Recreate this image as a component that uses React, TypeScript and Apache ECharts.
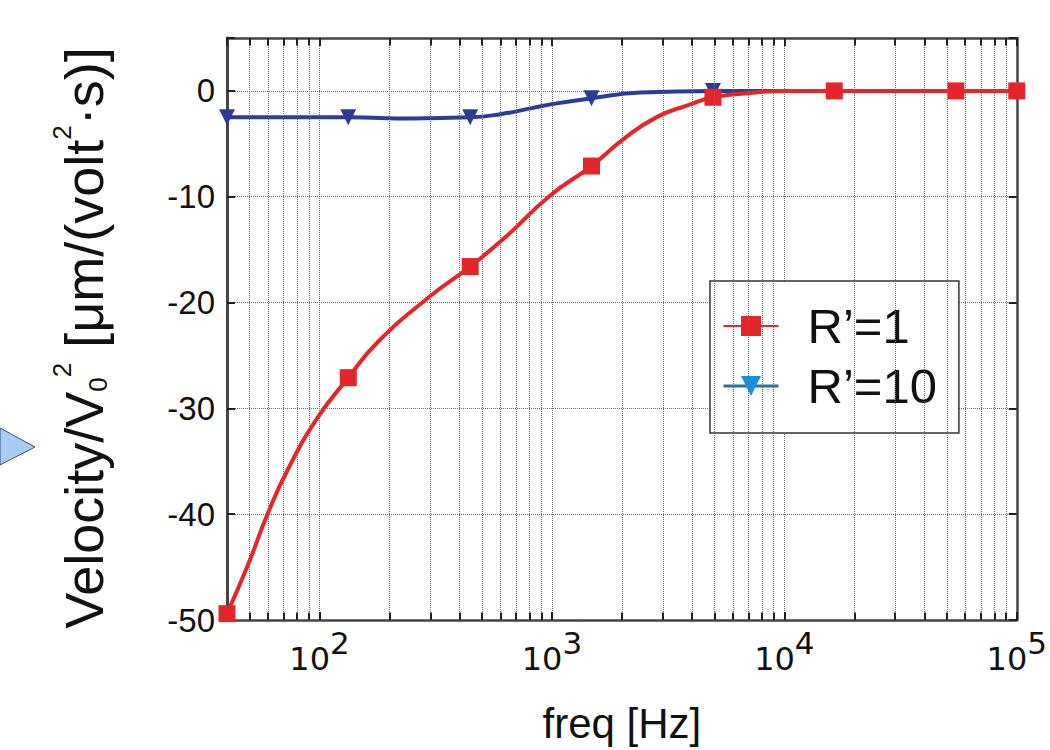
import React, { useEffect, useRef } from "react";
import * as echarts from "echarts";

// R'=1 curve (freq in Hz, velocity/V0^2)
const redFreq = [40, 49, 60, 73, 98, 133, 177, 299, 445, 640, 980, 1480, 2020, 2810, 3910, 4930, 7550, 10000, 16400, 54700, 100000];
const redVal = [-49.4, -44.9, -39.9, -35.8, -30.9, -27.1, -23.8, -19.4, -16.6, -13.7, -9.9, -7.1, -4.6, -2.5, -1.3, -0.6, -0.15, 0, 0, 0, 0];
const redMarked = [1, 0, 0, 0, 0, 1, 0, 0, 1, 0, 0, 1, 0, 0, 0, 1, 0, 0, 1, 1, 1];

// R'=10 curve
const blueFreq = [40, 133, 250, 445, 600, 830, 1000, 1480, 2400, 4930, 16400, 54700, 100000];
const blueVal = [-2.5, -2.5, -2.6, -2.5, -2.2, -1.6, -1.25, -0.7, -0.15, 0, 0, 0, 0];
const blueMarked = [1, 1, 0, 1, 0, 0, 0, 1, 0, 1, 1, 1, 1];

const seriesNames = ["R\u2019=1", "R\u2019=10"];

// minor log grid positions
const minorFreqs = [
  50, 60, 70, 80, 90,
  200, 300, 400, 500, 600, 700, 800, 900,
  2000, 3000, 4000, 5000, 6000, 7000, 8000, 9000,
  20000, 30000, 40000, 50000, 60000, 70000, 80000, 90000,
];

const xMin = 40;
const xMax = 100000;
const yMin = -50;
const yMax = 5;
const yStep = 10;

const RED = "#e4262a";
const BLUE = "#2c3b94";
const GRID = "#6e6e6e";
const FRAME = "#444";

export default function App() {
  const ref = useRef<HTMLDivElement>(null);

  useEffect(() => {
    if (!ref.current) return;
    const chart = echarts.init(ref.current, null, { renderer: "svg" });

    const redData = redFreq.map((f, i) => ({
      value: [f, redVal[i]],
      symbol: redMarked[i] ? "rect" : "none",
    }));
    const blueData = blueFreq.map((f, i) => ({
      value: [f, blueVal[i]],
      symbol: blueMarked[i] ? "triangle" : "none",
    }));

    const gridLineData = minorFreqs.map((f) => ({ xAxis: f }));
    const tickLen = 0.7;
    const minorTickData: any[] = [];
    minorFreqs.forEach((f) => {
      minorTickData.push([{ coord: [f, yMin] }, { coord: [f, yMin + tickLen] }]);
      minorTickData.push([{ coord: [f, yMax] }, { coord: [f, yMax - tickLen] }]);
    });

    const xLabelFmt = (v: number) => {
      const e = Math.round(Math.log10(v));
      if (Math.abs(Math.pow(10, e) - v) > 1e-6 * v) return "";
      return "{b|10}{s|" + e + "}";
    };

    const option: any = {
      animation: false,
      backgroundColor: "#fff",
      grid: { left: 227, right: 33, top: 38, bottom: 130, show: false },
      legend: {
        orient: "vertical",
        left: 710,
        top: 281,
        padding: [18, 22, 20, 12],
        backgroundColor: "#fff",
        borderColor: "#333",
        borderWidth: 1.5,
        itemWidth: 55,
        itemHeight: 25,
        itemGap: 6,
        textStyle: {
          fontFamily: "Liberation Sans, Arial, sans-serif",
          fontSize: 49,
          color: "#111",
          lineHeight: 54,
          padding: [0, 0, 0, 24],
        },
        data: [
          { name: seriesNames[0], itemStyle: { color: RED }, lineStyle: { color: RED, width: 2 } },
          { name: seriesNames[1], itemStyle: { color: "#1b8fdb" }, lineStyle: { color: "#2c7392", width: 3 } },
        ],
      },
      xAxis: [
        {
          type: "log",
          logBase: 10,
          min: xMin,
          max: xMax,
          position: "bottom",
          name: "freq [Hz]",
          nameLocation: "middle",
          nameGap: 82,
          nameTextStyle: { fontFamily: "Liberation Sans, Arial, sans-serif", fontSize: 42, color: "#111" },
          axisLine: { show: true, onZero: false, lineStyle: { color: FRAME, width: 2.5 } },
          axisTick: { show: true, inside: true, length: 8, lineStyle: { color: "#222", width: 2 } },
          axisLabel: {
            formatter: xLabelFmt,
            margin: 7,
            showMinLabel: false,
            rich: {
              b: { fontFamily: "DejaVu Sans, sans-serif", fontSize: 32, color: "#111", lineHeight: 48, verticalAlign: "bottom" },
              s: { fontFamily: "DejaVu Sans, sans-serif", fontSize: 31, color: "#111", lineHeight: 31, verticalAlign: "top" },
            },
          },
          splitLine: { show: true, lineStyle: { color: GRID, type: "dotted", width: 1 } },
        },
        {
          type: "log",
          logBase: 10,
          min: xMin,
          max: xMax,
          position: "top",
          axisLine: { show: true, onZero: false, lineStyle: { color: FRAME, width: 2.5 } },
          axisTick: { show: true, inside: true, length: 8, lineStyle: { color: "#222", width: 2 } },
          axisLabel: { show: false },
          splitLine: { show: false },
        },
      ],
      yAxis: [
        {
          type: "value",
          min: yMin,
          max: yMax,
          interval: yStep,
          position: "left",
          axisLine: { show: true, onZero: false, lineStyle: { color: FRAME, width: 3 } },
          axisTick: { show: true, inside: true, length: 8, lineStyle: { color: "#222", width: 2 } },
          axisLabel: {
            formatter: (v: number) => (v % 10 === 0 ? String(v) : ""),
            fontFamily: "Liberation Sans, Arial, sans-serif",
            fontSize: 33,
            color: "#111",
            margin: 12,
          },
          splitLine: { show: true, lineStyle: { color: GRID, type: "dotted", width: 1 } },
        },
        {
          type: "value",
          min: yMin,
          max: yMax,
          interval: yStep,
          position: "right",
          axisLine: { show: true, onZero: false, lineStyle: { color: FRAME, width: 2.5 } },
          axisTick: { show: true, inside: true, length: 8, lineStyle: { color: "#222", width: 2 } },
          axisLabel: { show: false },
          splitLine: { show: false },
        },
      ],
      graphic: [
        {
          type: "text",
          x: 80,
          y: 338,
          rotation: Math.PI / 2,
          style: {
            text: "{a|Velocity/V}{sub|0}{sup|2}{a| [\u03bcm/(volt}{sup2|2}{a|\u00b7s)]}",
            align: "center",
            verticalAlign: "middle",
            rich: {
              a: { fontFamily: "Liberation Sans, Arial, sans-serif", fontSize: 54, fill: "#111", lineHeight: 62, verticalAlign: "bottom" },
              sub: { fontFamily: "Liberation Sans, Arial, sans-serif", fontSize: 26, fill: "#111", lineHeight: 26, verticalAlign: "bottom" },
              sup: { fontFamily: "Liberation Sans, Arial, sans-serif", fontSize: 26, fill: "#111", lineHeight: 44, verticalAlign: "top" },
              sup2: { fontFamily: "Liberation Sans, Arial, sans-serif", fontSize: 26, fill: "#111", lineHeight: 44, verticalAlign: "top" },
            },
          },
        },
        {
          type: "polygon",
          shape: { points: [[0, 428], [35, 447], [0, 465]] },
          style: { fill: "#a7cdf6", stroke: "#3b4a6b", lineWidth: 1 },
        },
      ],
      series: [
        {
          name: "grid",
          type: "line",
          data: [],
          z: 1,
          silent: true,
          markLine: {
            silent: true,
            symbol: ["none", "none"],
            label: { show: false },
            animation: false,
            lineStyle: { color: GRID, type: "dotted", width: 1 },
            emphasis: { disabled: true },
            data: gridLineData,
          },
        },
        {
          name: "ticks",
          type: "line",
          data: [],
          z: 1,
          silent: true,
          markLine: {
            silent: true,
            symbol: ["none", "none"],
            label: { show: false },
            animation: false,
            lineStyle: { color: "#222", type: "solid", width: 2 },
            emphasis: { disabled: true },
            data: minorTickData,
          },
        },
        {
          name: seriesNames[1],
          type: "line",
          data: blueData,
          smooth: 0.5,
          symbol: "triangle",
          symbolRotate: 180,
          symbolSize: 16,
          showAllSymbol: true,
          lineStyle: { color: BLUE, width: 4 },
          itemStyle: { color: BLUE },
          z: 3,
        },
        {
          name: seriesNames[0],
          type: "line",
          data: redData,
          smooth: 0.5,
          symbol: "rect",
          symbolSize: 17,
          showAllSymbol: true,
          lineStyle: { color: RED, width: 4 },
          itemStyle: { color: RED },
          z: 4,
        },
      ],
    };

    chart.setOption(option);
    return () => chart.dispose();
  }, []);

  return (
    <div
      ref={ref}
      style={{ position: "fixed", left: 0, top: 0, width: 1050, height: 750, background: "#fff" }}
    />
  );
}
